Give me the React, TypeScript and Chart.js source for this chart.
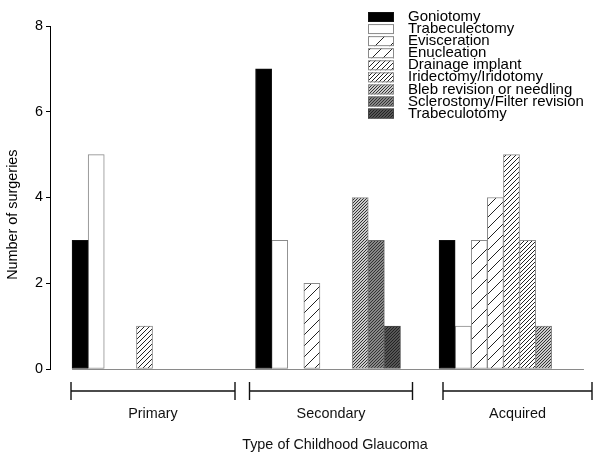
import React, { useEffect, useRef } from 'react';
import { Chart, registerables } from 'chart.js';

Chart.register(...registerables);

// ---- data ----
const categories = ['Primary', 'Secondary', 'Acquired'];
const procedures = [
  'Goniotomy',
  'Trabeculectomy',
  'Evisceration',
  'Enucleation',
  'Drainage implant',
  'Iridectomy/Iridotomy',
  'Bleb revision or needling',
  'Sclerostomy/Filter revision',
  'Trabeculotomy',
];
const goniotomy = [3, 7, 3];
const trabeculectomy = [5, 3, 1];
const evisceration = [0, 0, 3];
const enucleation = [0, 2, 4];
const drainageImplant = [1, 0, 5];
const iridectomy = [0, 0, 3];
const blebRevision = [0, 4, 1];
const sclerostomy = [0, 3, 0];
const trabeculotomy = [0, 1, 0];
const yTicks = [0, 2, 4, 6, 8];
const yTitle = 'Number of surgeries';
const xTitle = 'Type of Childhood Glaucoma';

const FONT = '"Liberation Sans", Arial, Helvetica, sans-serif';

function hatch(spacing: number, thickness: number, line: string, bg: string) {
  const c = document.createElement('canvas');
  c.width = spacing;
  c.height = spacing;
  const g = c.getContext('2d')!;
  g.fillStyle = bg;
  g.fillRect(0, 0, spacing, spacing);
  g.fillStyle = line;
  for (let y = 0; y < spacing; y++) {
    for (let x = 0; x < spacing; x++) {
      if ((x + y) % spacing < thickness) g.fillRect(x, y, 1, 1);
    }
  }
  return g.createPattern(c, 'repeat')!;
}

const BAR = 16.1;

const decor = {
  id: 'decor',
  beforeDatasetsDraw(chart: any) {
    const { ctx, scales } = chart;
    const xs = scales.x;
    const ys = scales.y;
    const n = chart.data.datasets.length;
    const x0 = xs.getPixelForValue(0) - (n * BAR) / 2;
    const x1 = xs.getPixelForValue(categories.length - 1) + (n * BAR) / 2;
    const y0 = Math.round(ys.getPixelForValue(0)) + 0.5;
    ctx.save();
    ctx.strokeStyle = '#8a8a8a';
    ctx.lineWidth = 1;
    ctx.beginPath();
    ctx.moveTo(x0, y0);
    ctx.lineTo(x1, y0);
    ctx.stroke();
    ctx.restore();
  },
  afterDraw(chart: any, _a: any, opts: any) {
    const { ctx, scales, chartArea } = chart;
    const xs = scales.x;
    const ys = scales.y;
    ctx.save();
    // brackets
    ctx.strokeStyle = '#111';
    ctx.lineWidth = 1.4;
    ctx.fillStyle = '#111';
    ctx.font = `14.4px ${FONT}`;
    ctx.textAlign = 'center';
    ctx.textBaseline = 'middle';
    const by = chartArea.bottom + 22;
    opts.spans.forEach((sp: number[], i: number) => {
      const a = xs.getPixelForValue(sp[0]);
      const b = xs.getPixelForValue(sp[1]);
      ctx.beginPath();
      ctx.moveTo(a, by);
      ctx.lineTo(b, by);
      ctx.moveTo(a, by - 9);
      ctx.lineTo(a, by + 9);
      ctx.moveTo(b, by - 9);
      ctx.lineTo(b, by + 9);
      ctx.stroke();
      ctx.fillText(categories[i], (a + b) / 2, by + 23);
    });
    ctx.fillText(xTitle, xs.getPixelForValue(opts.titleAt), by + 54);

    // y title
    ctx.save();
    ctx.translate(13, ys.getPixelForValue(opts.yTitleAt));
    ctx.rotate(-Math.PI / 2);
    ctx.fillStyle = '#000';
    ctx.fillText(yTitle, 0, 0);
    ctx.restore();

    // legend
    const lx = chartArea.right - 222;
    const ly = chartArea.top - 14;
    const pitch = 12.07;
    ctx.font = `15px ${FONT}`;
    ctx.textAlign = 'left';
    chart.data.datasets.forEach((ds: any, i: number) => {
      const top = ly + i * pitch;
      ctx.fillStyle = ds.backgroundColor;
      ctx.fillRect(lx, top, 26, 10);
      ctx.strokeStyle = ds.borderColor;
      ctx.lineWidth = 1;
      ctx.strokeRect(lx + 0.5, top + 0.5, 25, 9);
      ctx.fillStyle = '#000';
      ctx.fillText(ds.label, lx + 40, top + 5);
    });
    ctx.restore();
  },
};

export default function App() {
  const ref = useRef<HTMLCanvasElement>(null);
  useEffect(() => {
    const series = [
      goniotomy,
      trabeculectomy,
      evisceration,
      enucleation,
      drainageImplant,
      iridectomy,
      blebRevision,
      sclerostomy,
      trabeculotomy,
    ];
    const fills: any[] = [
      '#000000',
      '#ffffff',
      hatch(15, 1, '#222', '#fff'),
      hatch(11, 1, '#222', '#fff'),
      hatch(5, 1, '#222', '#fff'),
      hatch(4, 1, '#222', '#fff'),
      hatch(3, 1, '#333', '#cccccc'),
      hatch(3, 1, '#333', '#888888'),
      hatch(3, 1, '#222', '#555555'),
    ];
    const borders = ['#111', '#8a8a8a', '#8a8a8a', '#8a8a8a', '#8a8a8a', '#8a8a8a', '#8a8a8a', '#6a6a6a', '#444'];
    const datasets = procedures.map((p, k) => ({
      label: p,
      data: series[k].map((v, i) => ({ x: i, y: v })),
      backgroundColor: fills[k],
      borderColor: borders[k],
      borderWidth: 1,
      borderSkipped: false,
      barThickness: BAR,
    }));
    const chart = new Chart(ref.current!, {
      type: 'bar',
      data: { datasets },
      options: {
        animation: false,
        responsive: false,
        devicePixelRatio: 1,
        layout: { padding: { left: 0, right: 10, top: 26, bottom: 89 } },
        plugins: {
          legend: { display: false },
          tooltip: { enabled: false },
          decor: {
            spans: [
              [-0.4005, 0.4932],
              [0.5722, 1.4605],
              [1.6267, 2.4387],
            ],
            titleAt: 1.038,
            yTitleAt: 3.6,
          },
        } as any,
        scales: {
          x: {
            type: 'linear',
            display: false,
            offset: false,
            min: -0.515,
            max: 2.4278,
          },
          y: {
            min: 0,
            max: 8,
            afterBuildTicks: (s: any) => {
              s.ticks = yTicks.map((v) => ({ value: v }));
            },
            afterFit: (s: any) => {
              s.width = 50;
            },
            grid: { drawOnChartArea: false, drawTicks: true, tickLength: 4, color: '#000' },
            border: { display: true, color: '#000', width: 1 },
            ticks: { color: '#000', padding: 3, font: { family: FONT, size: 14.4 } },
            title: { display: false },
          },
        },
      },
      plugins: [decor],
    });
    return () => chart.destroy();
  }, []);
  return (
    <div style={{ position: 'absolute', left: 0, top: 0, width: 600, height: 458, background: '#fff' }}>
      <canvas ref={ref} width={600} height={458} style={{ display: 'block' }} />
    </div>
  );
}
